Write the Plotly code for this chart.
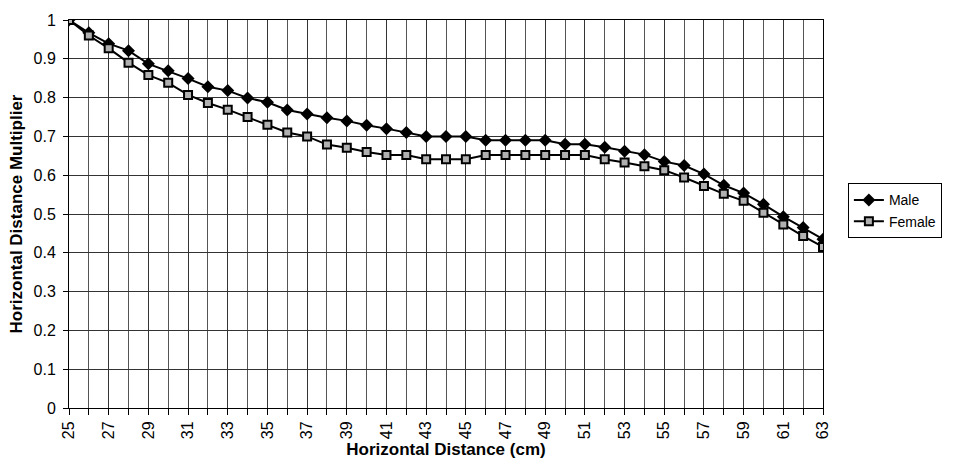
import plotly.graph_objects as go

distance_cm = list(range(25, 64))
male = [1.00, 0.967, 0.939, 0.921, 0.887, 0.869, 0.849, 0.828, 0.818, 0.799,
        0.788, 0.768, 0.758, 0.748, 0.740, 0.729, 0.720, 0.710, 0.700, 0.700,
        0.700, 0.690, 0.690, 0.690, 0.690, 0.680, 0.680, 0.672, 0.662, 0.653,
        0.635, 0.625, 0.603, 0.574, 0.554, 0.525, 0.493, 0.465, 0.435]
female = [1.00, 0.960, 0.927, 0.890, 0.858, 0.838, 0.807, 0.786, 0.769, 0.750,
          0.730, 0.710, 0.700, 0.679, 0.671, 0.660, 0.652, 0.652, 0.641, 0.641,
          0.641, 0.652, 0.652, 0.652, 0.652, 0.652, 0.652, 0.641, 0.633, 0.623,
          0.613, 0.594, 0.572, 0.552, 0.534, 0.503, 0.473, 0.443, 0.415]
x_tick_labels = [str(v) for v in range(25, 64, 2)]

fig = go.Figure()
fig.add_trace(go.Scatter(
    x=distance_cm, y=male, name="Male", mode="lines+markers",
    line=dict(color="black", width=2),
    marker=dict(symbol="diamond", size=10, color="black"),
))
fig.add_trace(go.Scatter(
    x=distance_cm, y=female, name="Female", mode="lines+markers",
    line=dict(color="black", width=2),
    marker=dict(symbol="square", size=8, color="#b0b0b0",
                line=dict(color="black", width=2)),
))

font_family = "Liberation Sans, Arial, sans-serif"
fig.update_layout(
    width=958, height=467,
    margin=dict(l=69, r=135, t=12, b=59),
    paper_bgcolor="white", plot_bgcolor="white",
    font=dict(family=font_family, size=16, color="black"),
    showlegend=True,
    legend=dict(x=1.033, y=0.508, xanchor="left", yanchor="middle",
                bordercolor="black", borderwidth=1, bgcolor="white",
                font=dict(size=14, family=font_family),
                tracegroupgap=0, itemwidth=30),
    xaxis=dict(
        range=[25, 63],
        tickmode="array",
        tickvals=[int(t) for t in x_tick_labels],
        ticktext=x_tick_labels,
        tickangle=-90,
        ticks="outside", ticklen=6, tickcolor="black",
        showgrid=True, gridcolor="#333", gridwidth=1,
        minor=dict(dtick=1, tick0=25, showgrid=True, gridcolor="#555",
                   gridwidth=1, ticks="outside", ticklen=6, tickcolor="black"),
        showline=True, linecolor="black", linewidth=1, mirror=True,
        zeroline=False,
        title=dict(text="<b>Horizontal Distance (cm)</b>",
                   font=dict(size=17, family=font_family), standoff=4),
        tickfont=dict(size=16),
    ),
    yaxis=dict(
        range=[0, 1], dtick=0.1, tick0=0,
        ticks="outside", ticklen=5, tickcolor="black",
        ticklabelstandoff=4,
        showgrid=True, gridcolor="#333", gridwidth=1,
        showline=True, linecolor="black", linewidth=1, mirror=True,
        zeroline=False,
        title=dict(text="<b>Horizontal Distance Multiplier</b>",
                   font=dict(size=17, family=font_family), standoff=6),
        tickfont=dict(size=16),
    ),
)

fig.write_html("out.html")
